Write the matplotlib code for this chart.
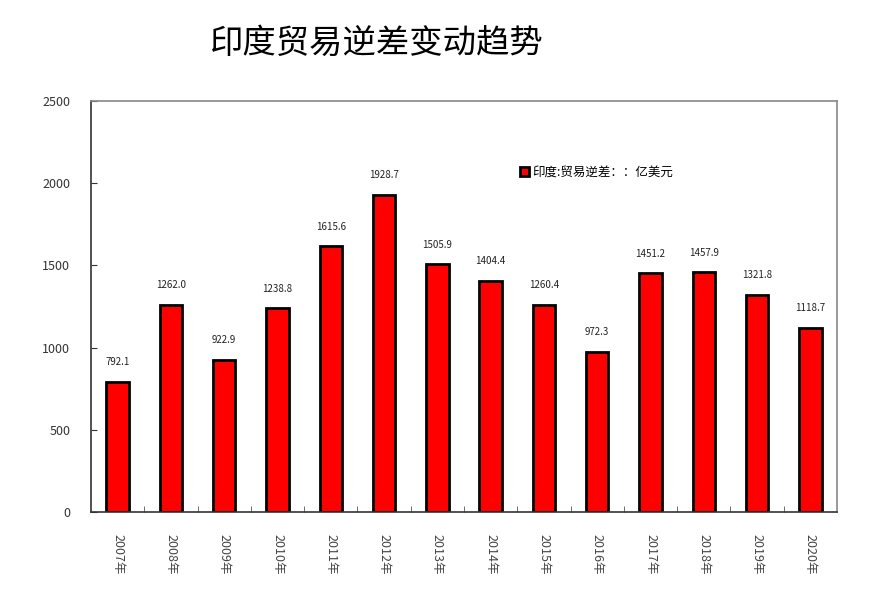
import matplotlib.pyplot as plt
import numpy as np

plt.rcParams['font.family'] = ['Noto Sans CJK SC', 'DejaVu Sans']

years = ["2007年", "2008年", "2009年", "2010年", "2011年", "2012年", "2013年",
         "2014年", "2015年", "2016年", "2017年", "2018年", "2019年", "2020年"]
deficit = [792.1, 1262.0, 922.9, 1238.8, 1615.6, 1928.7, 1505.9,
           1404.4, 1260.4, 972.3, 1451.2, 1457.9, 1321.8, 1118.7]
value_labels = ["792.1", "1262.0", "922.9", "1238.8", "1615.6", "1928.7", "1505.9",
                "1404.4", "1260.4", "972.3", "1451.2", "1457.9", "1321.8", "1118.7"]

fig = plt.figure(figsize=(8.73, 5.97), dpi=100)
ax = fig.add_axes([91 / 873, 1 - 512 / 597, (837 - 91) / 873, (512 - 101) / 597])

x = np.arange(len(years))
ax.bar(x, deficit, width=0.42, color="#ff0000", edgecolor="black", linewidth=2,
       label="印度:贸易逆差：：亿美元")

for xi, v, s in zip(x, deficit, value_labels):
    ax.text(xi, v + 90, s, ha="center", va="bottom", fontsize=7, color="#222222")

ax.set_xlim(-0.5, len(years) - 0.5)
ax.set_ylim(0, 2500)
ax.set_yticks([0, 500, 1000, 1500, 2000, 2500])
ax.tick_params(axis="y", direction="in", length=4, labelsize=9, pad=15, colors="#333333")
ax.set_xticks(x)
ax.set_xticklabels(years, rotation=270, fontsize=9, color="#444444")
ax.tick_params(axis="x", direction="in", length=0, pad=16)
ax.set_xticks(x[:-1] + 0.5, minor=True)
ax.tick_params(axis="x", which="minor", direction="in", length=4, color="#555555")

ax.spines["left"].set_color("#333333")
ax.spines["bottom"].set_color("#333333")
ax.spines["top"].set_color("#888888")
ax.spines["right"].set_color("#888888")
for sp in ax.spines.values():
    sp.set_linewidth(1.2)

ax.legend(loc="upper left", bbox_to_anchor=(0.56, 0.87), frameon=False, fontsize=9,
          handlelength=0.7, handleheight=0.7, handletextpad=0.3)

fig.text(377 / 873, 1 - 43 / 597, "印度贸易逆差变动趋势", ha="center", va="center",
         fontsize=24)

fig.savefig("out.png", dpi=100)
